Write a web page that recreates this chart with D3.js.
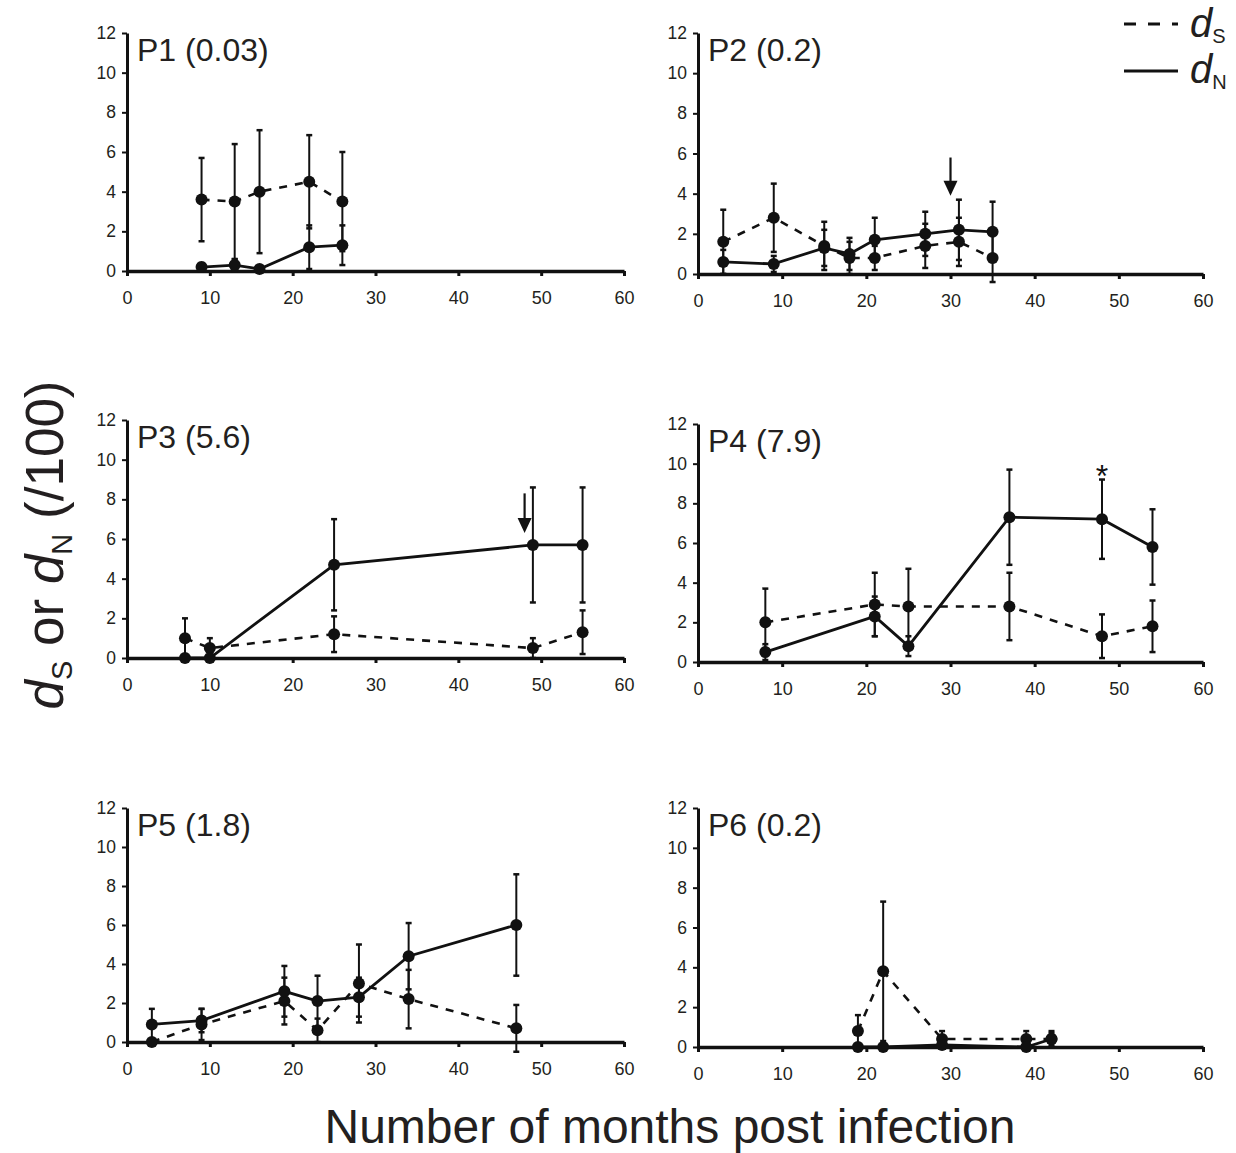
<!DOCTYPE html>
<html>
<head>
<meta charset="utf-8">
<script src="https://cdn.jsdelivr.net/npm/d3@7"></script>
<style>
  body { margin: 0; background: #fff; }
  svg { display: block; font-family: "Liberation Sans", Arial, sans-serif; }
  .axis path, .axis line { stroke: #111; }
  .axis text { fill: #231f20; font-family: "Liberation Sans", Arial, sans-serif; }
</style>
</head>
<body>
<svg id="chart" width="1236" height="1153"></svg>
<script>
// values (months post infection, dS / dN per 100 sites, error half-widths)
var panelNames = ["P1", "P2", "P3", "P4", "P5", "P6"];
var panelRates = ["0.03", "0.2", "5.6", "7.9", "1.8", "0.2"];

var monthsP1 = [9, 13, 16, 22, 26];
var dsP1     = [3.6, 3.5, 4.0, 4.5, 3.5];
var dsErrP1  = [2.1, 2.9, 3.1, 2.35, 2.5];
var dnP1     = [0.2, 0.3, 0.1, 1.2, 1.3];
var dnErrP1  = [0.2, 0.3, 0.1, 1.1, 1.0];

var monthsP2 = [3, 9, 15, 18, 21, 27, 31, 35];
var dsP2     = [1.6, 2.8, 1.4, 0.8, 0.8, 1.4, 1.6, 0.8];
var dsErrP2  = [1.6, 1.7, 1.2, 0.8, 0.6, 1.1, 1.2, 1.2];
var dnP2     = [0.6, 0.5, 1.3, 1.0, 1.7, 2.0, 2.2, 2.1];
var dnErrP2  = [0.6, 0.4, 0.9, 0.8, 1.1, 1.1, 1.5, 1.5];

var monthsP3 = [7, 10, 25, 49, 55];
var dsP3     = [1.0, 0.5, 1.2, 0.5, 1.3];
var dsErrP3  = [1.0, 0.5, 0.9, 0.5, 1.1];
var dnP3     = [0, 0, 4.7, 5.7, 5.7];
var dnErrP3  = [0, 0, 2.3, 2.9, 2.9];

var monthsP4 = [8, 21, 25, 37, 48, 54];
var dsP4     = [2.0, 2.9, 2.8, 2.8, 1.3, 1.8];
var dsErrP4  = [1.7, 1.6, 1.9, 1.7, 1.1, 1.3];
var dnP4     = [0.5, 2.3, 0.8, 7.3, 7.2, 5.8];
var dnErrP4  = [0.4, 1.0, 0.5, 2.4, 2.0, 1.9];

var monthsP5 = [3, 9, 19, 23, 28, 34, 47];
var dsP5     = [0, 0.9, 2.1, 0.6, 3.0, 2.2, 0.7];
var dsErrP5  = [0, 0.8, 1.2, 0.6, 2.0, 1.5, 1.2];
var dnP5     = [0.9, 1.1, 2.6, 2.1, 2.3, 4.4, 6.0];
var dnErrP5  = [0.8, 0.6, 1.3, 1.3, 1.0, 1.7, 2.6];

var monthsP6 = [19, 22, 29, 39, 42];
var dsP6     = [0.8, 3.8, 0.4, 0.4, 0.4];
var dsErrP6  = [0.8, 3.5, 0.4, 0.4, 0.4];
var dnP6     = [0, 0, 0.1, 0, 0.4];
var dnErrP6  = [0, 0, 0, 0, 0.3];

// arrows (P2, P3) and asterisk (P4)
var arrowPanel = ["P2", "P3"];
var arrowMonth = [30, 48];
var arrowFrom  = [5.8, 8.3];
var arrowTo    = [3.9, 6.3];
var starPanel = "P4";
var starMonth = 48;
var starValue = 9.6;

var xTicks = [0, 10, 20, 30, 40, 50, 60];
var yTicks = [0, 2, 4, 6, 8, 10, 12];

var allMonths = [monthsP1, monthsP2, monthsP3, monthsP4, monthsP5, monthsP6];
var allDs = [dsP1, dsP2, dsP3, dsP4, dsP5, dsP6];
var allDsErr = [dsErrP1, dsErrP2, dsErrP3, dsErrP4, dsErrP5, dsErrP6];
var allDn = [dnP1, dnP2, dnP3, dnP4, dnP5, dnP6];
var allDnErr = [dnErrP1, dnErrP2, dnErrP3, dnErrP4, dnErrP5, dnErrP6];

// plot boxes: left/right of x axis, top (y=12) and bottom (y=0)
var boxes = [
  {left: 127, right: 624, top: 33,  bottom: 271},
  {left: 698, right: 1203, top: 33, bottom: 274},
  {left: 127, right: 624, top: 420, bottom: 658},
  {left: 698, right: 1203, top: 424, bottom: 662},
  {left: 127, right: 624, top: 808, bottom: 1042},
  {left: 698, right: 1203, top: 808, bottom: 1047}
];

var ink = "#111";
var svg = d3.select("#chart");

function drawPanel(i){
  var b = boxes[i];
  var g = svg.append("g").attr("transform", "translate(" + b.left + "," + b.top + ")");
  var width = b.right - b.left;
  var height = b.bottom - b.top;

  var xScale = d3.scaleLinear().domain([0, 60]).range([0, width]);
  var yScale = d3.scaleLinear().domain([0, 12]).range([height, 0]);

  var rows = allMonths[i].map(function(m, k){
    return {m: m, ds: allDs[i][k], dsErr: allDsErr[i][k], dn: allDn[i][k], dnErr: allDnErr[i][k]};
  });

  // axes
  var xAxis = d3.axisBottom(xScale).tickValues(xTicks).tickSize(5).tickSizeOuter(0).tickPadding(15);
  var xg = g.append("g").attr("class", "axis").attr("transform", "translate(0," + height + ")").call(xAxis);
  xg.select(".domain").attr("stroke-width", 3.5);
  xg.selectAll(".tick line").attr("stroke-width", 3);
  xg.selectAll("text").style("font-size", "18px");

  var yAxis = d3.axisLeft(yScale).tickValues(yTicks).tickSize(5).tickSizeOuter(0).tickPadding(6);
  var yg = g.append("g").attr("class", "axis").call(yAxis);
  yg.select(".domain").attr("stroke-width", 3);
  yg.selectAll(".tick line").attr("stroke-width", 2);
  yg.selectAll("text").style("font-size", "17.5px");

  // error bars
  function errBars(key, errKey){
    var eb = g.append("g").selectAll("g").data(rows.filter(function(d){ return d[errKey] > 0; }))
      .enter().append("g");
    eb.append("line")
      .attr("x1", function(d){ return xScale(d.m); })
      .attr("x2", function(d){ return xScale(d.m); })
      .attr("y1", function(d){ return yScale(d[key] - d[errKey]); })
      .attr("y2", function(d){ return yScale(d[key] + d[errKey]); })
      .attr("stroke", ink).attr("stroke-width", 2);
    [-1, 1].forEach(function(s){
      eb.append("line")
        .attr("x1", function(d){ return xScale(d.m) - 3; })
        .attr("x2", function(d){ return xScale(d.m) + 3; })
        .attr("y1", function(d){ return yScale(d[key] + s * d[errKey]); })
        .attr("y2", function(d){ return yScale(d[key] + s * d[errKey]); })
        .attr("stroke", ink).attr("stroke-width", 2.5);
    });
  }
  errBars("ds", "dsErr");
  errBars("dn", "dnErr");

  // lines
  var dsLine = d3.line().x(function(d){ return xScale(d.m); }).y(function(d){ return yScale(d.ds); });
  var dnLine = d3.line().x(function(d){ return xScale(d.m); }).y(function(d){ return yScale(d.dn); });

  g.append("path").datum(rows).attr("d", dsLine)
    .attr("fill", "none").attr("stroke", ink).attr("stroke-width", 2.6)
    .attr("stroke-dasharray", "8,8");
  g.append("path").datum(rows).attr("d", dnLine)
    .attr("fill", "none").attr("stroke", ink).attr("stroke-width", 2.8);

  // dots
  ["ds", "dn"].forEach(function(key){
    g.append("g").selectAll("circle").data(rows).enter().append("circle")
      .attr("cx", function(d){ return xScale(d.m); })
      .attr("cy", function(d){ return yScale(d[key]); })
      .attr("r", 6)
      .attr("fill", ink);
  });

  // panel title
  g.append("text")
    .attr("x", 10)
    .attr("y", 28)
    .attr("fill", "#231f20")
    .style("font-size", "32px")
    .text(panelNames[i] + " (" + panelRates[i] + ")");

  // arrows
  arrowPanel.forEach(function(p, k){
    if (p !== panelNames[i]) return;
    var ax = xScale(arrowMonth[k]);
    var yTip = yScale(arrowTo[k]);
    g.append("line")
      .attr("x1", ax).attr("x2", ax)
      .attr("y1", yScale(arrowFrom[k])).attr("y2", yTip - 12)
      .attr("stroke", ink).attr("stroke-width", 2.2);
    g.append("path")
      .attr("d", "M" + (ax - 7) + "," + (yTip - 15) + "L" + (ax + 7) + "," + (yTip - 15) + "L" + ax + "," + yTip + "Z")
      .attr("fill", ink);
  });

  if (starPanel === panelNames[i]) {
    g.append("text")
      .attr("x", xScale(starMonth))
      .attr("y", yScale(starValue) + 15)
      .attr("text-anchor", "middle")
      .attr("fill", ink)
      .style("font-size", "32px")
      .text("*");
  }
}

for (var i = 0; i < panelNames.length; i++) {
  drawPanel(i);
}

// legend (top right)
var legend = svg.append("g");
legend.append("line").attr("x1", 1124).attr("x2", 1178).attr("y1", 24).attr("y2", 24)
  .attr("stroke", ink).attr("stroke-width", 3.2).attr("stroke-dasharray", "12,12");
legend.append("line").attr("x1", 1124).attr("x2", 1178).attr("y1", 71).attr("y2", 71)
  .attr("stroke", ink).attr("stroke-width", 3.2);

function subLabel(sel, sub, size, subSize, subDrop){
  sel.append("tspan").style("font-style", "italic").style("font-size", size + "px").text("d");
  sel.append("tspan").style("font-size", subSize + "px").attr("dy", subDrop).text(sub);
}
var l1 = legend.append("text").attr("x", 1190).attr("y", 37).attr("fill", "#231f20");
subLabel(l1, "S", 40, 20, 6);
var l2 = legend.append("text").attr("x", 1190).attr("y", 83).attr("fill", "#231f20");
subLabel(l2, "N", 40, 20, 6);

// y axis title
var yTitle = svg.append("text")
  .attr("transform", "translate(63,545) rotate(-90)")
  .attr("text-anchor", "middle")
  .attr("fill", "#231f20")
  .style("font-size", "53px");
yTitle.append("tspan").style("font-style", "italic").text("d");
yTitle.append("tspan").style("font-size", "29px").attr("dy", 9).text("S");
yTitle.append("tspan").attr("dy", -9).text(" or ");
yTitle.append("tspan").style("font-style", "italic").text("d");
yTitle.append("tspan").style("font-size", "29px").attr("dy", 9).text("N");
yTitle.append("tspan").attr("dy", -9).text(" (/100)");

// x axis title
svg.append("text")
  .attr("x", 670)
  .attr("y", 1143)
  .attr("text-anchor", "middle")
  .attr("fill", "#231f20")
  .style("font-size", "48px")
  .text("Number of months post infection");
</script>
</body>
</html>
